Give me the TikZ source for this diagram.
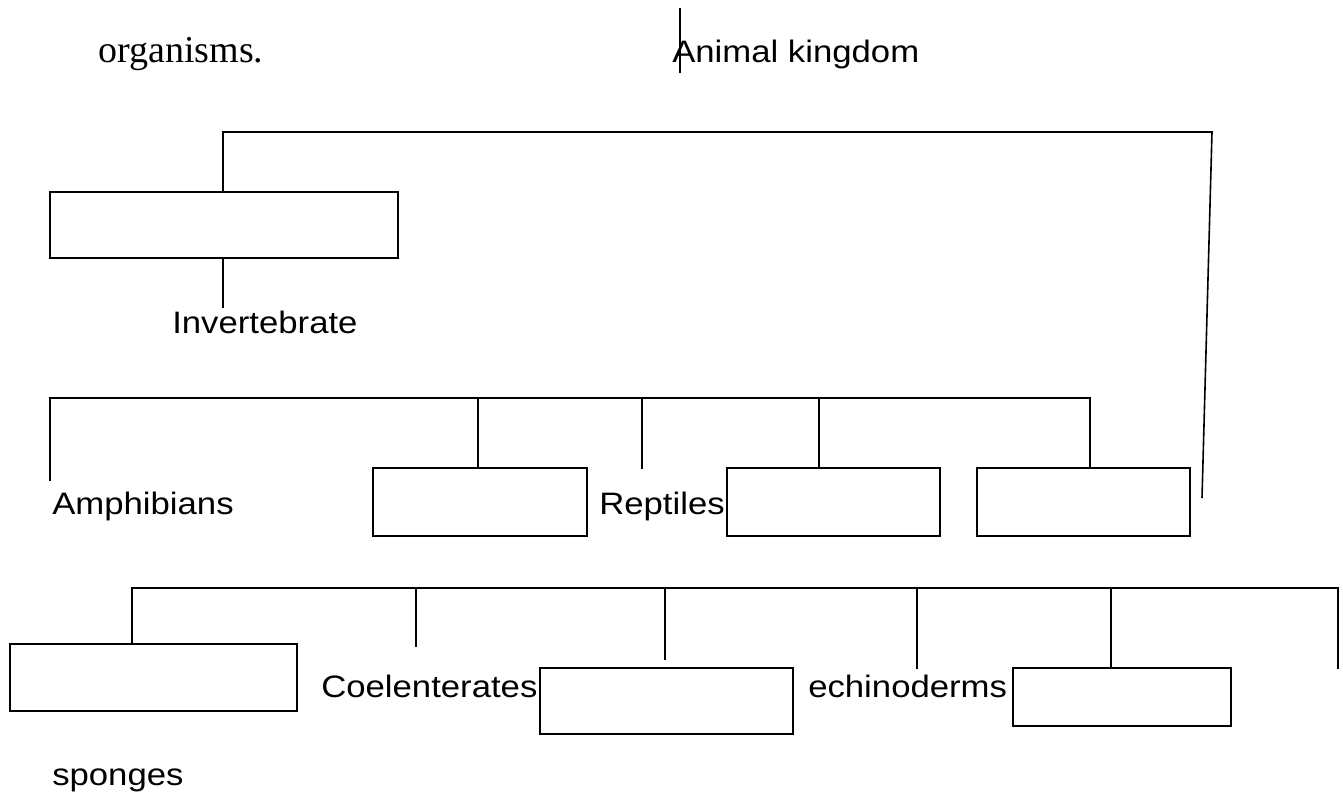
\documentclass[tikz,border=0pt]{standalone}
\usepackage{fontspec}
\setmainfont{Liberation Serif}
\setsansfont[FakeStretch=1.12]{Liberation Sans}
\usepackage{tikz}
\usetikzlibrary{positioning}
\tikzstyle{blank} = [draw, rectangle, line width=1.6pt, inner sep=0pt]
\tikzstyle{label} = [font=\sffamily\fontsize{23.25pt}{28pt}\selectfont, anchor=base west, inner sep=0pt]
\tikzstyle{branch} = [line width=1.2pt]

\begin{document}
\begin{tikzpicture}[x=0.75pt, y=-0.75pt]
        \useasboundingbox (0,0) rectangle (1343,798);

        % Texts
        \node[anchor=base west, inner sep=0pt, font=\fontsize{28.5pt}{34pt}\selectfont] (organisms) at (98,63) {organisms.};
        \node[label] (kingdom) at (672,63) {Animal kingdom};
        \node[label] (invert) at (172,334) {Invertebrate};
        \node[label] (amphib) at (52,515) {Amphibians};
        \node[label] (reptile) at (599,515) {Reptiles};
        \node[label] (coelent) at (321,697) {Coelenterates};
        \node[label] (echino) at (808,697) {echinoderms};
        \node[label] (sponge) at (52,785) {sponges};

        % Empty boxes
        \node[blank, minimum width=261pt, minimum height=49.5pt] (box1) at (224,225) {};
        \node[blank, minimum width=160.5pt, minimum height=51pt] (box2) at (480,502) {};
        \node[blank, minimum width=159.75pt, minimum height=51pt] (box3) at (833.5,502) {};
        \node[blank, minimum width=159.75pt, minimum height=51pt] (box4) at (1083.5,502) {};
        \node[blank, minimum width=215.25pt, minimum height=50.25pt] (box5) at (153.5,677.5) {};
        \node[blank, minimum width=189.75pt, minimum height=49.5pt] (box6) at (666.5,701) {};
        \node[blank, minimum width=163.5pt, minimum height=43.5pt] (box7) at (1122,697) {};

        % Line ends
        \coordinate (kTop) at (680,8);
        \coordinate (kBot) at (680,73);
        \coordinate (topL) at (223,132);
        \coordinate (topR) at (1212,132);
        \coordinate (topEnd) at (1202,498);
        \coordinate (invTop) at (223,308);
        \coordinate (midL) at (50,398);
        \coordinate (midR) at (1090,398);
        \coordinate (amphTop) at (50,481);
        \coordinate (midA) at (478,398);
        \coordinate (midB) at (642,398);
        \coordinate (repTop) at (642,469);
        \coordinate (midC) at (819,398);
        \coordinate (lowL) at (132,588);
        \coordinate (lowR) at (1338,588);
        \coordinate (lowA) at (416,588);
        \coordinate (coeTop) at (416,647);
        \coordinate (lowB) at (665,588);
        \coordinate (lowBEnd) at (665,660);
        \coordinate (lowC) at (917,588);
        \coordinate (echTop) at (917,669);
        \coordinate (lowD) at (1111,588);
        \coordinate (lowREnd) at (1338,669);

        % Branches - black
        \draw[branch] (kTop) -- (kBot);
        \draw[branch] (topL |- box1.north) -- (topL) -- (topR) -- (topEnd);
        \draw[branch] (invTop |- box1.south) -- (invTop);
        \draw[branch] (amphTop) -- (midL) -- (midR) -- (midR |- box4.north);
        \draw[branch] (midA) -- (midA |- box2.north);
        \draw[branch] (midB) -- (repTop);
        \draw[branch] (midC) -- (midC |- box3.north);
        \draw[branch] (lowL |- box5.north) -- (lowL) -- (lowR) -- (lowREnd);
        \draw[branch] (lowA) -- (coeTop);
        \draw[branch] (lowB) -- (lowBEnd);
        \draw[branch] (lowC) -- (echTop);
        \draw[branch] (lowD) -- (lowD |- box7.north);
      \end{tikzpicture}
\end{document}
